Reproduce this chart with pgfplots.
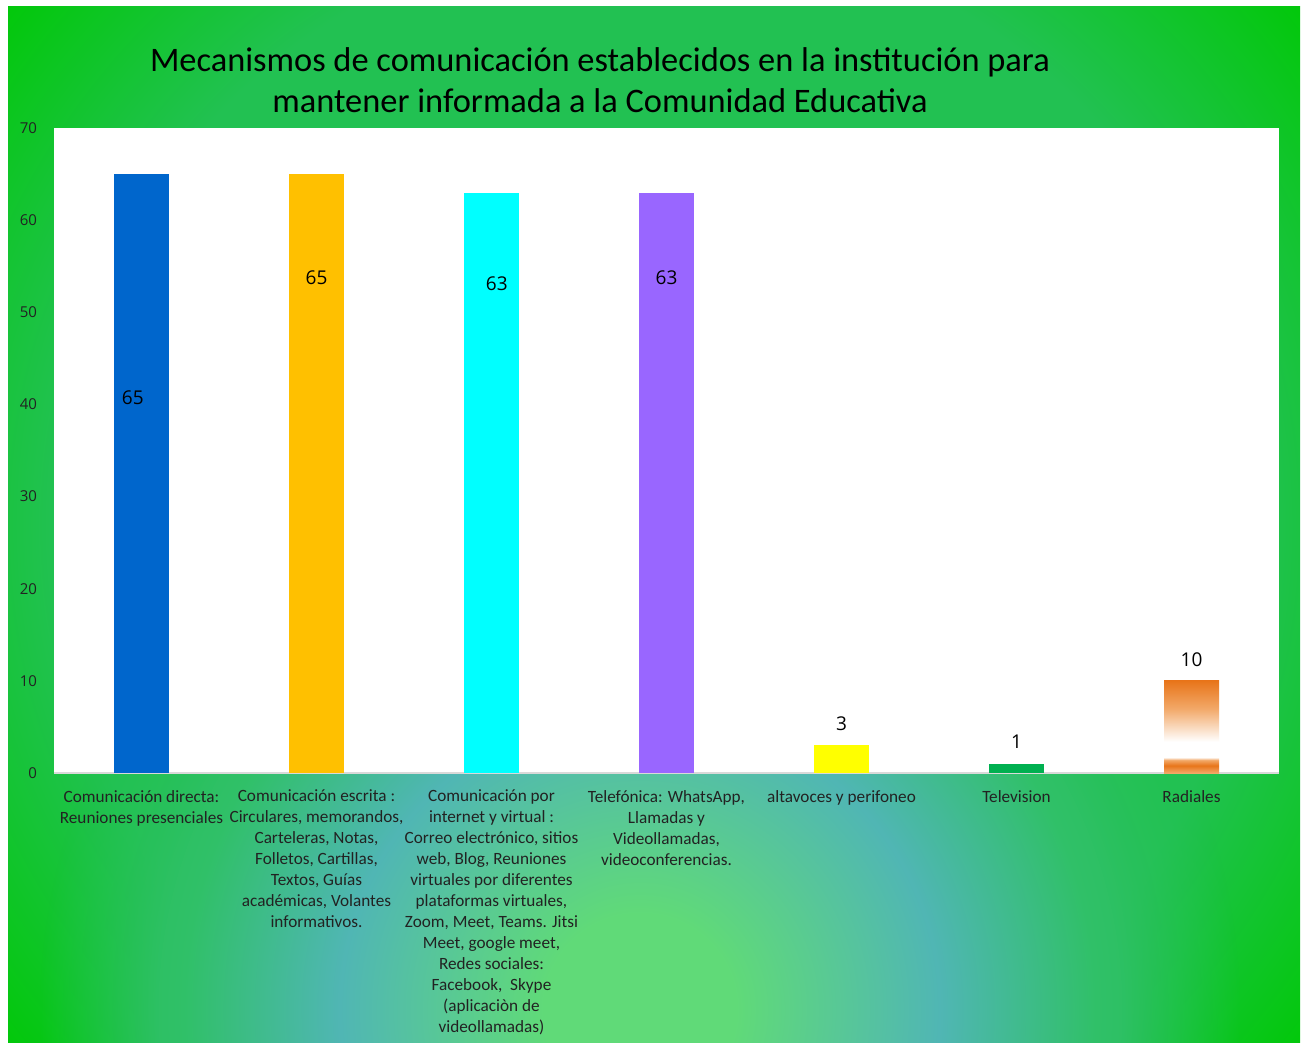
\documentclass[border=0pt]{standalone}
\usepackage{fontspec}
\setmainfont{Carlito}
\newfontfamily\osans{Open Sans}
\usepackage{pgfplots}
\pgfplotsset{compat=1.18}
\usetikzlibrary{fadings}

\definecolor{barblue}{HTML}{0066CC}
\definecolor{barorange}{HTML}{FFC000}
\definecolor{barcyan}{HTML}{00FFFF}
\definecolor{barviolet}{HTML}{9966FF}
\definecolor{baryellow}{HTML}{FFFF00}
\definecolor{bargreen}{HTML}{00B050}
\definecolor{orA}{HTML}{E8751A}
\definecolor{orL}{HTML}{F2A868}
\definecolor{bgbright}{HTML}{02C80A}
\definecolor{bgmid}{HTML}{22C152}
\definecolor{bglight}{HTML}{60DA78}
\definecolor{bgteal}{HTML}{50B6B4}
\definecolor{bgmid2}{HTML}{30C068}
\definecolor{txt}{HTML}{222222}

% background: green edges, teal ring, light green at the bottom middle
\pgfdeclareradialshading{bgbase}{\pgfpoint{0bp}{0bp}}{color(0bp)=(bgmid); color(18bp)=(bgmid); color(25bp)=(bgbright); color(50bp)=(bgbright)}
\pgfdeclareradialshading{bgbottom}{\pgfpoint{0bp}{0bp}}{color(0bp)=(bglight); color(4bp)=(bglight); color(12.5bp)=(bgteal); color(19bp)=(bgmid2); color(25bp)=(bgmid); color(50bp)=(bgmid)}
% orange bar: orange top fading to white, thin orange stripe at the base
\pgfdeclareverticalshading{orangebar}{100bp}{color(0bp)=(orL); color(25bp)=(orL); color(29bp)=(orA); color(32bp)=(orL); color(33.5bp)=(white); color(42bp)=(white); color(60bp)=(orL); color(75bp)=(orA); color(100bp)=(orA)}

\begin{document}
\begin{tikzpicture}
\fill[white] (0,0) rectangle (651.5pt,-521.5pt);
\begin{scope}
  \clip (4pt,-3.5pt) rectangle (650pt,-521.5pt);
  \shade[shading=bgbase] (327pt,-262.5pt) circle (415pt);
  \shade[shading=bgbottom, path fading=circle with fuzzy edge 20 percent] (320pt,-505pt) circle (300pt);
\end{scope}

\node[align=center, font=\fontsize{17.2}{20.5}\selectfont, text=black] at (300pt,-40.25pt)
  {Mecanismos de comunicación establecidos en la institución para\\mantener informada a la Comunidad Educativa};

\begin{axis}[
  at={(27pt,-386.5pt)}, anchor=south west,
  scale only axis, width=612.5pt, height=322.5pt,
  xmin=-0.5, xmax=6.5, ymin=0, ymax=70,
  ytick={0,10,...,70},
  xtick={0,...,6},
  xticklabels={
    {Comunicación directa:\\Reuniones presenciales},
    {Comunicación escrita :\\Circulares, memorandos,\\Carteleras, Notas,\\Folletos, Cartillas,\\Textos, Guías\\académicas, Volantes\\informativos.},
    {Comunicación por\\internet y virtual :\\Correo electrónico, sitios\\web, Blog, Reuniones\\virtuales por diferentes\\plataformas virtuales,\\Zoom, Meet, Teams. Jitsi\\Meet, google meet,\\Redes sociales:\\Facebook,\ \ Skype\\(aplicaciòn de\\videollamadas)},
    {Telefónica: WhatsApp,\\Llamadas y\\Videollamadas,\\videoconferencias.},
    {altavoces y perifoneo},
    {Television},
    {Radiales}},
  xticklabel style={align=center, anchor=north, yshift=-5pt,
    font=\fontsize{8.6}{10.5}\selectfont, text=txt},
  yticklabel style={font=\osans\fontsize{7.5}{9}\selectfont, text=txt, xshift=-5pt},
  /pgf/number format/assume math mode=true,
  major tick length=0pt, tick style={draw=none},
  axis x line*=bottom, axis y line*=left,
  x axis line style={draw=black!15, line width=1pt},
  y axis line style={draw=none},
  axis background/.style={fill=white},
  clip=false,
]
\addplot[ybar, bar width=27.5pt, bar shift=0pt, fill=barblue, draw=none] coordinates {(0,65)};
\addplot[ybar, bar width=27.5pt, bar shift=0pt, fill=barorange, draw=none] coordinates {(1,65)};
\addplot[ybar, bar width=27.5pt, bar shift=0pt, fill=barcyan, draw=none] coordinates {(2,63)};
\addplot[ybar, bar width=27.5pt, bar shift=0pt, fill=barviolet, draw=none] coordinates {(3,63)};
\addplot[ybar, bar width=27.5pt, bar shift=0pt, fill=baryellow, draw=none] coordinates {(4,3)};
\addplot[ybar, bar width=27.5pt, bar shift=0pt, fill=bargreen, draw=none] coordinates {(5,1)};
\addplot[ybar, bar width=27.5pt, bar shift=0pt, shade, shading=orangebar, draw=none] coordinates {(6,10)};
% data labels
\addplot[draw=none, mark=none, nodes near coords, point meta=explicit symbolic,
  nodes near coords style={anchor=center, font=\osans\fontsize{9.5}{11}\selectfont, text=black}]
  coordinates {(-0.05,40.7)[65] (1,53.8)[65] (2.03,53.1)[63] (3,53.8)[63] (4,5.3)[3] (5,3.4)[1] (6,12.3)[10]};
\end{axis}
\pgfresetboundingbox
\path[use as bounding box] (0,0) rectangle (651.5pt,-521.5pt);
\end{tikzpicture}
\end{document}
